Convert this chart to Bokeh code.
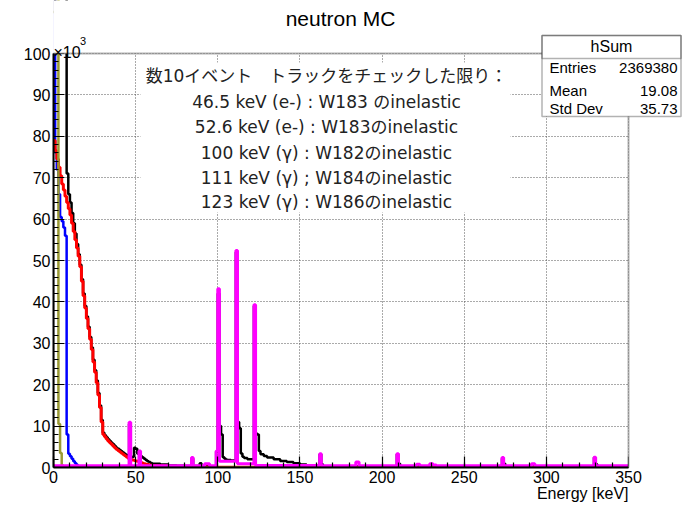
from bokeh.plotting import figure
from bokeh.models import (Range1d, FixedTicker, BoxAnnotation, Label, Title)
from bokeh.embed import file_html
from bokeh.resources import INLINE

# ---------------- data (counts in units of 10^3, energy in keV) ----------------
red_edges = list(range(0, 61)) + [65, 70, 80, 100, 350]
red_counts = [79, 76.5, 74.5, 72.5, 70.5, 68.5, 67, 65.5, 64, 62.5,
              61, 59, 57, 55, 53, 51, 48.5, 45, 41.5, 38.5,
              36, 33.5, 31, 28.5, 25.5, 23, 20.5, 17.5, 14.5, 11,
              8, 7.4, 6.9, 6.4, 6.0, 5.6, 5.2, 4.8, 4.4, 4.1,
              3.8, 3.5, 3.2, 2.9, 2.6, 2.3, 2.1, 1.9, 1.8, 1.7,
              1.6, 1.5, 1.4, 1.2, 1.0, 0.9, 0.8, 0.7, 0.6, 0.55,
              0.45, 0.35, 0.25, 0.15, 0.05]

black_edges = list(range(0, 61)) + [65, 70, 75, 80, 84, 85, 89, 90, 99, 100,
                                    101, 102, 103, 104, 105, 106, 108, 111, 112, 113,
                                    114, 115, 116, 118, 122, 123, 124, 125, 126, 128,
                                    130, 134, 138, 142, 146, 150, 154, 158, 162, 163,
                                    164, 209, 210, 211, 273, 274, 275, 329, 330, 331, 350]
black_counts = [180, 170, 160, 140, 130, 125, 120, 115, 71, 66,
                64, 61.5, 59, 56.5, 54, 51.5, 49, 45.5, 42, 39,
                36.5, 34, 31.5, 29, 26, 23.5, 21, 18, 15, 11.5,
                8.4, 7.8, 7.3, 6.8, 6.4, 6.0, 5.6, 5.2, 4.8, 4.5,
                4.2, 3.9, 3.6, 3.3, 3.0, 2.7, 10.5, 2.4, 2.6, 4.8,
                4.5, 3.3, 3.8, 2.7, 2.4, 2.1, 1.8, 1.5, 1.3, 1.1,
                0.9, 0.7, 0.5, 0.4, 0.35, 2.2, 0.35, 1.0, 0.3, 3.8,
                42, 10, 8, 2.5, 2.1, 1.9, 1.8, 1.7, 52, 11,
                9.5, 3.4, 2.6, 2.3, 2.0, 39, 8.2, 8.0, 4.0, 3.2,
                2.8, 2.4, 2.0, 1.6, 1.3, 1.0, 0.7, 0.5, 0.35, 3.2,
                0.8, 0.3, 3.2, 0.9, 0.3, 2.2, 0.9, 0.25, 2.4, 0.8, 0.2]

blue_edges = list(range(0, 17)) + [350]
blue_counts = [120, 76, 72, 66, 60.5, 59.5, 58, 56, 8, 3.3,
               2.7, 2.1, 1.5, 1.0, 0.6, 0.3, 0]

olive_edges = [0, 1, 2, 3, 4, 5, 6, 350]
olive_counts = [110, 115, 120, 10.5, 3.5, 0.5, 0]

magenta_edges = [0, 46, 47, 52, 53, 84, 85, 92, 95, 99, 100, 101, 111, 112, 122, 123,
                 162, 163, 184, 186, 209, 210, 221, 223, 229, 231, 233, 273, 274,
                 291, 293, 329, 330, 350]
magenta_counts = [0.4, 10.9, 0.4, 4.0, 0.4, 2.4, 0.4, 0.9, 0.4, 4.0, 43.2, 1.5, 52.4,
                  0.9, 39.3, 0.5, 3.3, 0.4, 1.3, 0.4, 3.3, 0.4, 0.8, 0.4, 0.9, 0.6,
                  0.4, 2.4, 0.4, 0.9, 0.4, 2.5, 0.4]

x_major_ticks = [0, 50, 100, 150, 200, 250, 300, 350]
x_minor_ticks = list(range(10, 350, 10))
y_major_ticks = [0, 10, 20, 30, 40, 50, 60, 70, 80, 90, 100]
y_minor_ticks = list(range(2, 100, 2))

stats_names = ["Entries", "Mean", "Std Dev"]
stats_values = ["2369380", "19.08", "35.73"]

notes = ["数10イベント\u3000トラックをチェックした限り：",
         "46.5 keV (e-) : W183 のinelastic",
         "52.6 keV (e-) : W183のinelastic",
         "100 keV (γ) : W182のinelastic",
         "111 keV (γ) ; W184のinelastic",
         "123 keV (γ) : W186のinelastic"]

# ---------------- layout ----------------
W, H = 682, 505
FL, FR, FT, FB = 53, 628, 53, 467   # ROOT frame edges in pixels
XMAX, YMAX = 350, 100
XPX = (FR - FL) / XMAX              # px per keV
YPX = (FB - FT) / YMAX              # px per 10^3

def sx(px):
    return (px - FL) / XPX

def sy(py):
    return (FB - py) / YPX

# Bokeh frame covers everything right of the y axis and above the x axis,
# so that the title and the stats box can live inside it.
p = figure(width=W, height=H,
           x_range=Range1d(0, sx(W)), y_range=Range1d(0, sy(0)),
           output_backend="svg", toolbar_location=None, title=None,
           min_border_left=FL, min_border_right=0,
           min_border_top=0, min_border_bottom=H - FB)
p.outline_line_color = None
p.background_fill_color = "white"
p.border_fill_color = "white"

xtick = FixedTicker(ticks=x_major_ticks, minor_ticks=x_minor_ticks)
ytick = FixedTicker(ticks=y_major_ticks, minor_ticks=y_minor_ticks)
p.xaxis.ticker = xtick
p.yaxis.ticker = ytick
p.xaxis.bounds = (0, XMAX)
p.yaxis.bounds = (0, YMAX)
for ax in (p.xaxis[0], p.yaxis[0]):
    ax.axis_line_width = 2
    ax.axis_line_color = "black"
    ax.major_tick_in = 11
    ax.major_tick_out = 0
    ax.minor_tick_in = 5
    ax.minor_tick_out = 0
    ax.major_tick_line_width = 1.2
    ax.minor_tick_line_width = 1.2
    ax.major_label_text_font = "Liberation Sans"
    ax.major_label_text_font_size = "16px"
    ax.major_label_text_color = "black"
    ax.major_label_text_line_height = 1.0
p.yaxis[0].major_label_standoff = 3
p.xaxis[0].major_label_standoff = 3

xt = Title(text="Energy [keV]", align="right", offset=W - FR, standoff=-4,
           vertical_align="middle", text_font="Liberation Sans",
           text_font_size="16px", text_font_style="normal", text_color="black",
           text_line_height=1.0)
p.add_layout(xt, "below")

p.xgrid[0].ticker = xtick
p.ygrid[0].ticker = ytick
for g in (p.xgrid[0], p.ygrid[0]):
    g.grid_line_color = "#555555"
    g.grid_line_dash = "1 2"
    g.grid_line_width = 1
    g.grid_line_alpha = 1.0

def hist(edges, counts, color, width):
    assert len(edges) == len(counts) + 1, (color, len(edges), len(counts))
    p.step(x=edges, y=list(counts) + [counts[-1]], mode="after",
           line_color=color, line_width=width)

# white pave behind the notes (hides the grid there)
p.add_layout(BoxAnnotation(left=sx(140), right=sx(510), top=sy(62), bottom=sy(212),
                           fill_color="white", fill_alpha=1, line_color=None,
                           level="glyph"))

hist(black_edges, black_counts, "black", 2.5)
hist(blue_edges, blue_counts, "#0000ff", 2.5)
hist(red_edges, red_counts, "#ff0000", 3)
hist(olive_edges, olive_counts, "#999933", 2.5)
hist(magenta_edges, magenta_counts, "#ff00ff", 3)

# blank the pad outside the ROOT frame (above and right of it)
p.add_layout(BoxAnnotation(bottom=YMAX, fill_color="white", fill_alpha=1, line_color=None))
p.add_layout(BoxAnnotation(left=XMAX, fill_color="white", fill_alpha=1, line_color=None))
# ROOT frame
p.add_layout(BoxAnnotation(left=0, right=XMAX, bottom=0, top=YMAX, fill_alpha=0,
                           line_color="black", line_width=2))

# notes
note_font = "DejaVu Sans, Noto Sans CJK JP"
note_py = [75, 101, 126, 152, 177, 201]
for t, py in zip(notes, note_py):
    p.add_layout(Label(x=sx(326), y=sy(py), text=t, text_align="center",
                       text_baseline="middle", text_font=note_font,
                       text_font_size="17px", text_color="#222222"))

# title and exponent
p.add_layout(Label(x=sx(340), y=sy(18), text="neutron MC", text_align="center",
                   text_baseline="middle", text_font="Liberation Sans",
                   text_font_size="21px", text_color="black"))
p.add_layout(Label(x=sx(53), y=sy(52), text="×10", text_align="left",
                   text_baseline="alphabetic", text_font="Liberation Sans",
                   text_font_size="16px", text_color="black"))
p.add_layout(Label(x=sx(79.5), y=sy(40), text="3", text_align="left",
                   text_baseline="middle", text_font="Liberation Sans",
                   text_font_size="11px", text_color="black"))

# stats box
p.add_layout(BoxAnnotation(left=sx(541.5), right=sx(680.5), top=sy(35), bottom=sy(116),
                           fill_color="white", fill_alpha=1, line_color="black",
                           line_width=1.5, level="overlay"))
p.add_layout(BoxAnnotation(left=sx(541.5), right=sx(680.5), top=sy(35), bottom=sy(58),
                           fill_alpha=0, line_color="black", line_width=1.5,
                           level="overlay"))
p.add_layout(Label(x=sx(611), y=sy(46), text="hSum", text_align="center",
                   text_baseline="middle", text_font="Liberation Sans",
                   text_font_size="16px", text_color="black", level="overlay"))
stat_py = [67, 90, 108]
for name, val, py in zip(stats_names, stats_values, stat_py):
    p.add_layout(Label(x=sx(549), y=sy(py), text=name, text_align="left",
                       text_baseline="middle", text_font="Liberation Sans",
                       text_font_size="15px", text_color="black", level="overlay"))
    p.add_layout(Label(x=sx(677), y=sy(py), text=val, text_align="right",
                       text_baseline="middle", text_font="Liberation Sans",
                       text_font_size="15px", text_color="black", level="overlay"))

open("out.html", "w").write(file_html(p, INLINE))
